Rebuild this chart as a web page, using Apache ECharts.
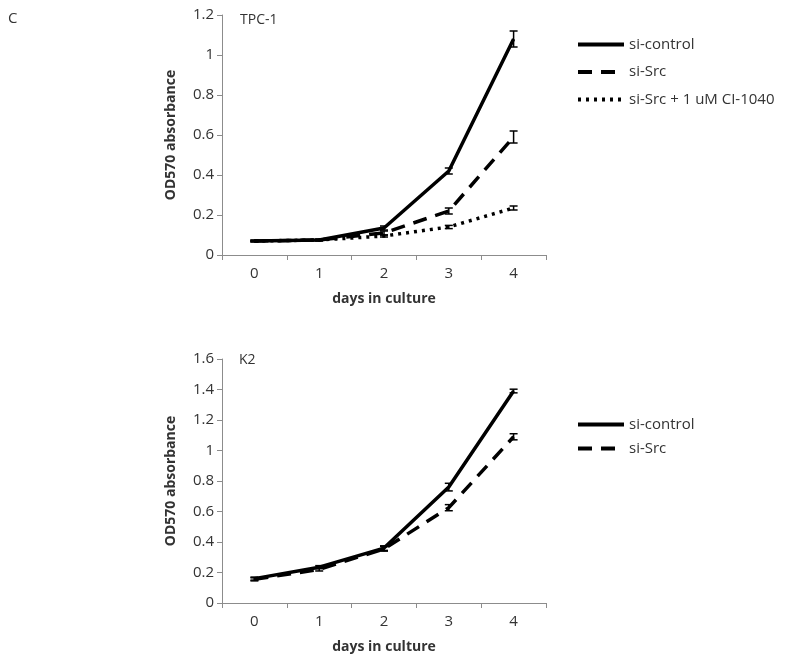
<!DOCTYPE html>
<html><head><meta charset="utf-8">
<script src="https://cdn.jsdelivr.net/npm/echarts@6/dist/echarts.min.js"></script>
<style>html,body{margin:0;padding:0;background:#fff}#c{width:800px;height:671px}</style>
</head><body><div id="c"></div>
<script>
const days = ['0','1','2','3','4'];
const topYTicks = [0,0.2,0.4,0.6,0.8,1,1.2];
const botYTicks = [0,0.2,0.4,0.6,0.8,1,1.2,1.4,1.6];
// TPC-1
const tpcControl = [0.07, 0.075, 0.135, 0.42, 1.08];
const tpcControlErr = [0.004, 0.004, 0.01, 0.015, 0.04];
const tpcSrc = [0.07, 0.075, 0.11, 0.22, 0.59];
const tpcSrcErr = [0.004, 0.004, 0.01, 0.015, 0.03];
const tpcCI = [0.07, 0.075, 0.095, 0.14, 0.235];
const tpcCIErr = [0.003, 0.003, 0.005, 0.008, 0.01];
// K2
const k2Control = [0.16, 0.235, 0.36, 0.76, 1.39];
const k2ControlErr = [0.01, 0.01, 0.015, 0.025, 0.012];
const k2Src = [0.155, 0.22, 0.355, 0.625, 1.09];
const k2SrcErr = [0.01, 0.01, 0.015, 0.02, 0.02];

const font = 'Open Sans, Liberation Sans, sans-serif';
const txt = '#333';
const axisGray = '#8c8c8c';

function errSeries(vals, errs, xi, yi) {
  return {
    type: 'custom', xAxisIndex: xi, yAxisIndex: yi, silent: true, z: 5,
    data: vals.map((v, i) => [i, v - errs[i], v + errs[i]]),
    renderItem: function (params, api) {
      const x = api.value(0);
      const lo = api.coord([x, api.value(1)]);
      const hi = api.coord([x, api.value(2)]);
      const w = 4;
      const st = { stroke: '#000', lineWidth: 1.5 };
      return { type: 'group', children: [
        { type: 'line', shape: { x1: lo[0], y1: lo[1], x2: hi[0], y2: hi[1] }, style: st },
        { type: 'line', shape: { x1: lo[0]-w, y1: lo[1], x2: lo[0]+w, y2: lo[1] }, style: st },
        { type: 'line', shape: { x1: hi[0]-w, y1: hi[1], x2: hi[0]+w, y2: hi[1] }, style: st }
      ]};
    }
  };
}
function lineSeries(name, vals, type, xi, yi) {
  const ls = { color: '#000', width: 3.5 };
  if (type === 'dashed') { ls.type = [14, 9]; }
  if (type === 'dotted') { ls.type = [3, 5]; ls.width = 3.5; }
  return { name: name, type: 'line', xAxisIndex: xi, yAxisIndex: yi, data: vals,
    symbol: 'none', showSymbol: false, lineStyle: ls, itemStyle: { color: '#000' }, z: 3, animation: false };
}
function xAx(gi) {
  return { type: 'category', gridIndex: gi, data: days, boundaryGap: true,
    name: 'days in culture', nameLocation: 'middle', nameGap: 37,
    nameTextStyle: { fontFamily: font, fontWeight: 'bold', fontSize: 14, color: txt },
    axisLine: { lineStyle: { color: axisGray, width: 1 } },
    axisTick: { show: true, length: 5, lineStyle: { color: axisGray } },
    axisLabel: { fontFamily: font, fontSize: 15, color: txt, margin: 11 } };
}
function yAx(gi, ticks) {
  return { type: 'value', gridIndex: gi, min: ticks[0], max: ticks[ticks.length-1], interval: 0.2,
    name: 'OD570 absorbance', nameLocation: 'middle', nameGap: 44,
    nameTextStyle: { fontFamily: font, fontWeight: 'bold', fontSize: 14, color: txt },
    axisLine: { show: true, lineStyle: { color: axisGray, width: 1 } },
    axisTick: { show: true, length: 5, lineStyle: { color: axisGray } },
    splitLine: { show: false },
    axisLabel: { fontFamily: font, fontSize: 15, color: txt, margin: 8,
      formatter: v => String(Math.round(v*10)/10) } };
}
const legendCommon = { orient: 'vertical', left: 571, itemWidth: 46, itemHeight: 14,
  selectedMode: false, itemStyle: { opacity: 0, borderWidth: 0 },
  lineStyle: { width: 4 },
  textStyle: { fontFamily: font, fontSize: 15, color: txt } };
const chart = echarts.init(document.getElementById('c'));
chart.setOption({
  animation: false,
  backgroundColor: '#fff',
  grid: [
    { left: 222, top: 15, width: 324, height: 240 },
    { left: 222, top: 359, width: 324, height: 244 }
  ],
  xAxis: [xAx(0), xAx(1)],
  yAxis: [yAx(0, topYTicks), yAx(1, botYTicks)],
  legend: [
    Object.assign({ data: ['si-control','si-Src','si-Src + 1 uM CI-1040'], top: 32, itemGap: 12.5 }, legendCommon),
    Object.assign({ data: ['si-control','si-Src'], top: 412, itemGap: 9 }, legendCommon)
  ],
  graphic: [
    { type: 'text', left: 8, top: 11, style: { text: 'C', font: '15px ' + font, fill: txt } },
    { type: 'text', left: 240, top: 13, style: { text: 'TPC-1', font: '14px ' + font, fill: txt } },
    { type: 'text', left: 239, top: 353, style: { text: 'K2', font: '14px ' + font, fill: txt } }
  ],
  series: [
    lineSeries('si-control', tpcControl, 'solid', 0, 0),
    lineSeries('si-Src', tpcSrc, 'dashed', 0, 0),
    lineSeries('si-Src + 1 uM CI-1040', tpcCI, 'dotted', 0, 0),
    errSeries(tpcControl, tpcControlErr, 0, 0),
    errSeries(tpcSrc, tpcSrcErr, 0, 0),
    errSeries(tpcCI, tpcCIErr, 0, 0),
    lineSeries('si-control', k2Control, 'solid', 1, 1),
    lineSeries('si-Src', k2Src, 'dashed', 1, 1),
    errSeries(k2Control, k2ControlErr, 1, 1),
    errSeries(k2Src, k2SrcErr, 1, 1)
  ]
});
</script></body></html>
